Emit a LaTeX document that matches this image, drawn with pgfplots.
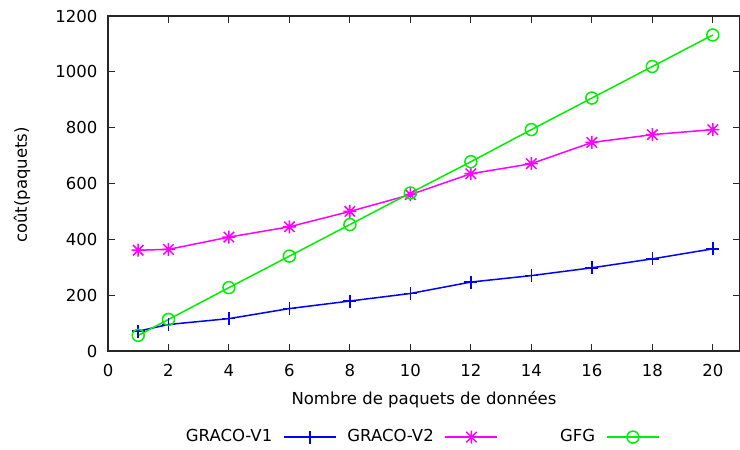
\documentclass[border=0pt]{standalone}
\usepackage{fontspec}
\setmainfont{DejaVu Sans}
\usepackage{pgfplots}
\pgfplotsset{compat=1.18}

\definecolor{gblue}{RGB}{0,0,255}
\definecolor{gmag}{RGB}{255,0,255}
\definecolor{ggreen}{RGB}{0,240,0}

% gnuplot style star: plus and cross together
\pgfdeclareplotmark{gstar}{%
  \pgfpathmoveto{\pgfqpoint{-\pgfplotmarksize}{0pt}}%
  \pgfpathlineto{\pgfqpoint{\pgfplotmarksize}{0pt}}%
  \pgfpathmoveto{\pgfqpoint{0pt}{-\pgfplotmarksize}}%
  \pgfpathlineto{\pgfqpoint{0pt}{\pgfplotmarksize}}%
  \pgfpathmoveto{\pgfqpoint{-0.8\pgfplotmarksize}{-0.8\pgfplotmarksize}}%
  \pgfpathlineto{\pgfqpoint{0.8\pgfplotmarksize}{0.8\pgfplotmarksize}}%
  \pgfpathmoveto{\pgfqpoint{-0.8\pgfplotmarksize}{0.8\pgfplotmarksize}}%
  \pgfpathlineto{\pgfqpoint{0.8\pgfplotmarksize}{-0.8\pgfplotmarksize}}%
  \pgfusepathqstroke}

\begin{document}
\fontsize{16.5}{19}\selectfont
\begin{tikzpicture}
\useasboundingbox (-108pt,-99pt) rectangle (632pt,351pt);
\begin{axis}[
    scale only axis,
    width=632pt, height=335pt,
    xmin=0, xmax=20.9, ymin=0, ymax=1200,
    xtick={0,2,...,20}, ytick={0,200,...,1200},
    tick align=inside,
    major tick length=7pt,
    axis line style={black!85, line width=1.2pt},
    tick style={black!85, line width=1pt},
    /pgf/number format/assume math mode=true,
    /pgf/number format/1000 sep={},
    xticklabel style={yshift=-8pt},
    yticklabel style={xshift=-5pt},
    xlabel={Nombre de paquets de données},
    ylabel={coût(paquets)},
    xlabel style={at={(axis description cs:0.5,-0.146)}, anchor=center},
    ylabel style={at={(axis description cs:-0.136,0.496)}, anchor=center, rotate=0},
    legend columns=3,
    legend plot pos=right,
    legend style={at={(axis description cs:0.114,-0.257)}, anchor=west,
      draw=none, fill=none, inner sep=0pt,
      nodes={text width=92pt, align=right, inner sep=0pt},
      /tikz/every odd column/.style={column sep=11pt},
      /tikz/every even column/.style={column sep=5pt}},
    legend image code/.code={%
      \draw[mark repeat=2, mark phase=2] plot coordinates {(0pt,0pt) (26pt,0pt) (52pt,0pt)};},
    every axis plot/.append style={line width=1.5pt},
]
\addplot[color=gblue, mark=+, mark size=6.5pt, mark options={line width=1.5pt}]
coordinates {
    (1,71) (2,95) (4,116) (6,152) (8,179) (10,206)
    (12,247) (14,270) (16,298) (18,330) (20,366)
};
\addlegendentry{GRACO-V1}

\addplot[color=gmag, mark=gstar, mark size=6.5pt, mark options={line width=1.5pt}]
coordinates {
    (1,361) (2,364) (4,408) (6,445) (8,500) (10,560)
    (12,635) (14,671) (16,747) (18,775) (20,793)
};
\addlegendentry{GRACO-V2}

\addplot[color=ggreen, mark=o, mark size=6pt, mark options={line width=1.5pt}]
coordinates {
    (1,56) (2,113) (4,227) (6,340) (8,453) (10,566)
    (12,678) (14,793) (16,906) (18,1019) (20,1132)
};
\addlegendentry{GFG}
\end{axis}
\end{tikzpicture}
\end{document}
